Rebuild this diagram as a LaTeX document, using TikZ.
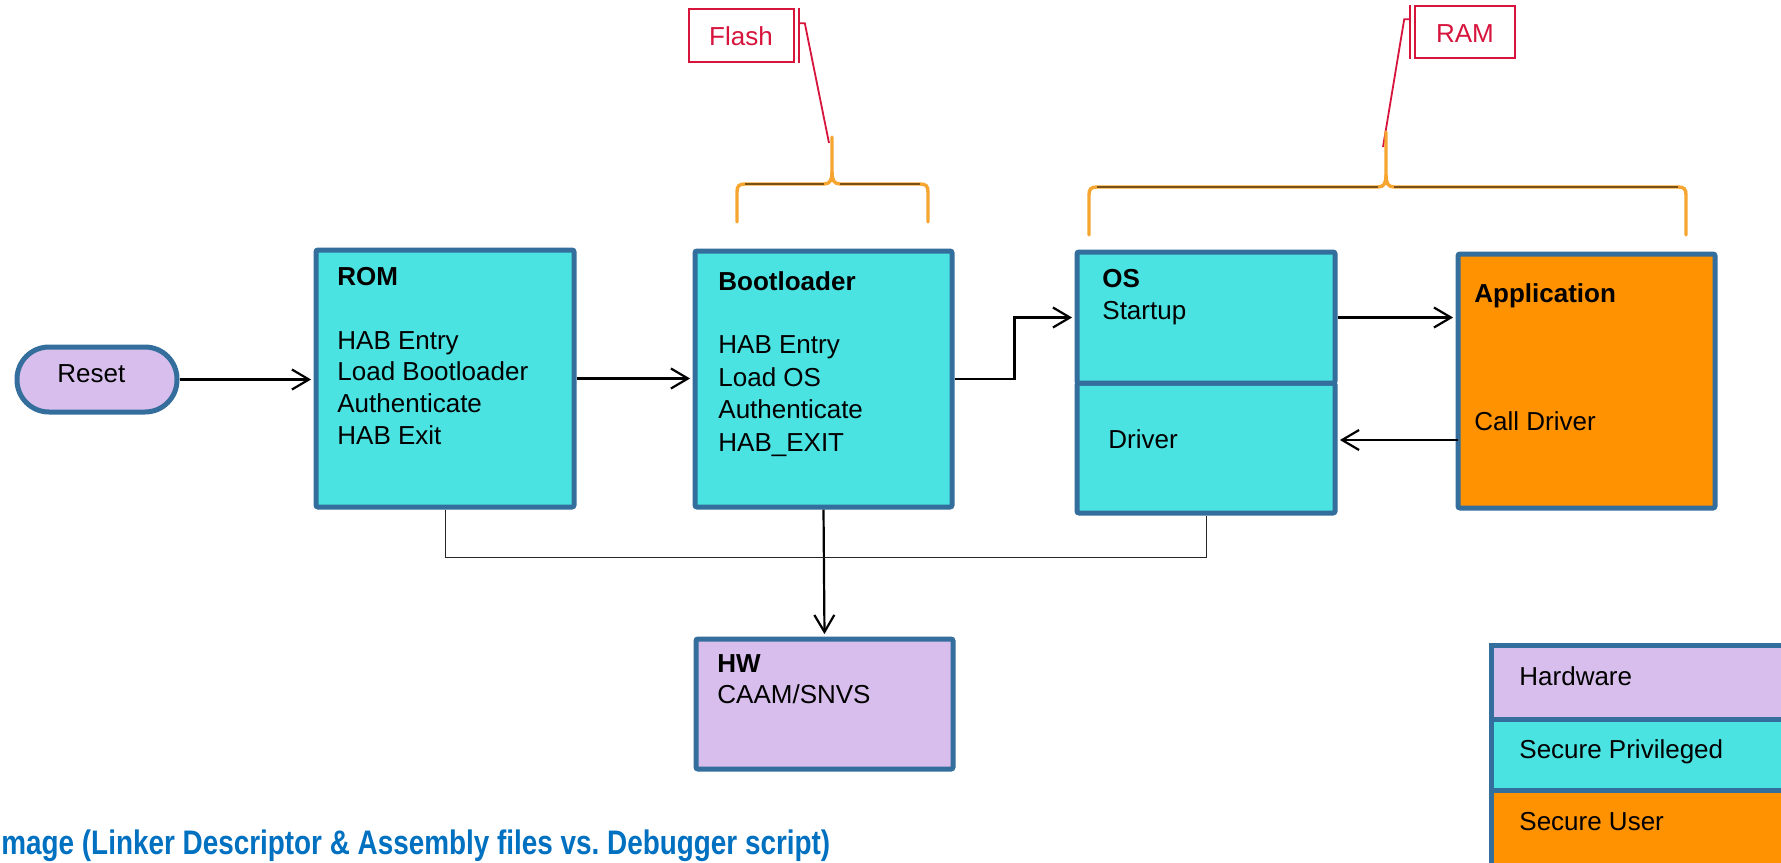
\documentclass[tikz,border=0pt]{standalone}
\usepackage{fontspec}
\setmainfont{Liberation Sans}
\newfontfamily\narrowfont[FakeStretch=0.82]{Liberation Sans}
\usetikzlibrary{arrows.meta,fit,calc}

\definecolor{privfill}{HTML}{4BE2E2}
\definecolor{hwfill}{HTML}{D8BEEC}
\definecolor{userfill}{HTML}{FF9200}
\definecolor{edge}{HTML}{336E9C}
\definecolor{calloutred}{HTML}{D6143C}
\definecolor{braceorange}{HTML}{F5A530}
\definecolor{bracebrown}{HTML}{7A5218}
\definecolor{capblue}{HTML}{0070C0}

\begin{document}
\begin{tikzpicture}[x=0.5pt,y=-0.5pt,
  box/.style={draw=edge, line width=2.5pt, rounded corners=1pt, inner sep=0pt},
  txt/.style={anchor=base west, inner sep=0pt, font=\fontsize{13pt}{15pt}\selectfont},
  ttl/.style={txt, font=\fontsize{13pt}{15pt}\selectfont\bfseries},
  arr/.style={draw=black, line width=1.1pt, shorten >=1.2pt,
    -{Straight Barb[length=8.5pt,width=10pt,line width=1.1pt]}},
  bus/.style={draw=black!85, line width=0.5pt},
  callout/.style={draw=calloutred, line width=0.8pt, inner sep=0pt},
  callouttext/.style={anchor=base, inner sep=0pt, text=calloutred,
    font=\fontsize{13pt}{15pt}\selectfont},
  callline/.style={draw=calloutred, line width=0.9pt},
  brace/.style={draw=braceorange, line width=1.7pt, line cap=round},
  braceinner/.style={draw=bracebrown, line width=0.8pt},
]
\useasboundingbox (0,0) rectangle (1781,862);
\fill[white] (0,0) rectangle (1781,862);
\clip (0,0) rectangle (1781,862);

% ---- memory region callouts ----
\node[callout, fit={(689,9) (794,62)}] (flash) {};
\node[callouttext] (flash-t) at (741,45) {Flash};
\draw[callline] ($(flash.north east)+(4,0)$) -- ($(flash.south east)+(4,0)$);
\coordinate (flash-ptr) at (829,143);
\draw[callline] ($(flash.north east)+(4,15)$) -- ++(6,0) -- (flash-ptr);

\node[callout, fit={(1415,6) (1515,58)}] (ram) {};
\node[callouttext] (ram-t) at (1465,42) {RAM};
\draw[callline] ($(ram.north west)+(-4,0)$) -- ($(ram.south west)+(-4,0)$);
\coordinate (ram-ptr) at (1383,147);
\draw[callline] ($(ram.north west)+(-4,14)$) -- ++(-6,0) -- (ram-ptr);

% ---- braces ----
\draw[brace] (737,222) -- (737,192) .. controls (737,186) and (739,184) .. (745,184)
  -- (824,184) .. controls (830,184) and (832,180) .. (832,172) -- (832,137);
\draw[brace] (832,172) .. controls (832,180) and (834,184) .. (840,184)
  -- (920,184) .. controls (926,184) and (928,186) .. (928,192) -- (928,222);
\draw[braceinner] (745,184) -- (824,184) (840,184) -- (920,184);

\draw[brace] (1089,235) -- (1089,195) .. controls (1089,189) and (1091,187) .. (1097,187)
  -- (1378,187) .. controls (1384,187) and (1386,183) .. (1386,175) -- (1386,132);
\draw[brace] (1386,175) .. controls (1386,183) and (1388,187) .. (1394,187)
  -- (1678,187) .. controls (1684,187) and (1686,189) .. (1686,195) -- (1686,235);
\draw[braceinner] (1097,187) -- (1378,187) (1394,187) -- (1678,187);

% ---- boot chain ----
\node[box, fill=hwfill, rounded corners=16pt, fit={(17,347) (177,412)}] (reset) {};
\node[txt] (reset-t) at (57,382) {Reset};

\node[box, fill=privfill, fit={(316,250) (574,507)}] (rom) {};
\node[ttl] (rom-t) at (337,285) {ROM};
\node[txt] (rom-1) at (337,349) {HAB Entry};
\node[txt] (rom-2) at (337,380) {Load Bootloader};
\node[txt] (rom-3) at (337,412) {Authenticate};
\node[txt] (rom-4) at (337,444) {HAB Exit};

\node[box, fill=privfill, fit={(695,251) (952,507)}] (boot) {};
\node[ttl] (boot-t) at (718,290) {Bootloader};
\node[txt] (boot-1) at (718,353) {HAB Entry};
\node[txt] (boot-2) at (718,386) {Load OS};
\node[txt] (boot-3) at (718,418) {Authenticate};
\node[txt] (boot-4) at (718,451) {HAB\_EXIT};

\node[box, fill=privfill, fit={(1077,383) (1335,513)}] (drv) {};
\node[box, fill=privfill, fit={(1077,252) (1335,383)}] (os) {};
\node[ttl] (os-t) at (1102,287) {OS};
\node[txt] (os-1) at (1102,319) {Startup};
\node[txt] (drv-t) at (1108,448) {Driver};

\node[box, fill=userfill, fit={(1458,254) (1715,508)}] (app) {};
\node[ttl] (app-t) at (1474,302) {Application};
\node[txt] (app-1) at (1474,430) {Call Driver};

\node[box, fill=hwfill, fit={(696,639) (953,769)}] (hw) {};
\node[ttl] (hw-t) at (717,672) {HW};
\node[txt] (hw-1) at (717,703) {CAAM/SNVS};

% ---- connectors ----
\draw[arr] (reset.east) -- (reset.east -| rom.west);
\draw[arr] (rom.east) -- (rom.east -| boot.west);
\draw[arr] (boot.east) -- ($(boot.east)!0.5!(boot.east -| os.west)$) |- (os.west);
\draw[arr] (os.east) -- (os.east -| app.west);
\coordinate (app-call) at (1458,440);
\draw[arr] (app-call) -- (app-call -| drv.east);
\draw[arr] (boot.south) -- (hw.north);
\coordinate (bus-y) at (0,557);
\draw[bus] (rom.south) -- (rom.south |- bus-y) -| (drv.south);

% ---- legend ----
\node[box, rounded corners=0pt, fill=hwfill, fit={(1491,645) (1800,719)}] (lg-hw) {};
\node[box, rounded corners=0pt, fill=privfill, fit={(1491,719) (1800,790)}] (lg-priv) {};
\node[box, rounded corners=0pt, fill=userfill, fit={(1491,790) (1800,880)}] (lg-user) {};
\node[txt] (lg-hw-t) at (1519,685) {Hardware};
\node[txt] (lg-priv-t) at (1519,758) {Secure Privileged};
\node[txt] (lg-user-t) at (1519,830) {Secure User};

% ---- caption ----
\node[anchor=base west, inner sep=0pt, text=capblue,
  font=\narrowfont\bfseries\fontsize{17pt}{20pt}\selectfont] (caption) at (1,854)
  {mage (Linker Descriptor \& Assembly files vs.\ Debugger script)};
\end{tikzpicture}
\end{document}
